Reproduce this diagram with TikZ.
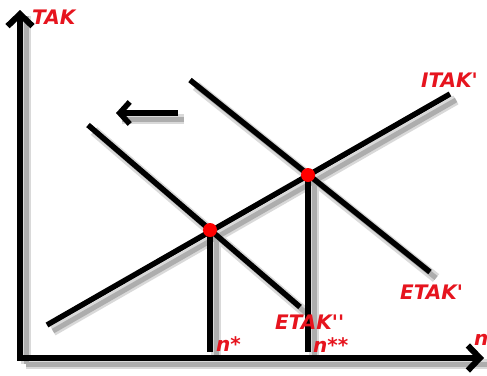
\documentclass[tikz,border=0pt]{standalone}
\usepackage{fontspec}
\setmainfont{DejaVu Sans}
\usetikzlibrary{arrows.meta}
\definecolor{lblred}{RGB}{230,20,30}
\tikzset{
  every picture/.style={x=1pt,y=-1pt},
  curve/.style={line width=5.5pt, black},
  shadowline/.style={line width=10pt, black!15},
  shadowline2/.style={line width=5pt, black!32},
  axis/.style={line width=6pt, black, -{Straight Barb[length=12pt,width=25pt,line width=6pt]}},
  lbl/.style={text=lblred, font=\bfseries\itshape\fontsize{20}{20}\selectfont, inner sep=0pt},
  dot/.style={circle, fill=red, inner sep=0pt, minimum size=14pt}
}
\newcommand{\qs}{\textquotesingle}
\begin{document}
\begin{tikzpicture}
\useasboundingbox (0,0) rectangle (487,375);
% coordinates
\coordinate (O) at (20,358);
\coordinate (Ytop) at (20,10);
\coordinate (Xend) at (484,358);
\coordinate (I1) at (47,325);
\coordinate (I2) at (450,94);
\coordinate (E1a) at (190,80);
\coordinate (E1b) at (430,272);
\coordinate (E2a) at (88,125);
\coordinate (E2b) at (300,307);
\coordinate (A) at (210,230);
\coordinate (B) at (308,175);
\coordinate (Abot) at (210,352);
\coordinate (Bbot) at (308,352);
\coordinate (Sa) at (178,113);
\coordinate (Sb) at (116,113);
% shadows (offset down-right)
\foreach \p/\q in {I1/I2,E1a/E1b,E2a/E2b,A/Abot,B/Bbot,O/Ytop,O/Xend,Sa/Sb}{
  \draw[shadowline] ([shift={(6,6)}]\p) -- ([shift={(6,6)}]\q);
}
\foreach \p/\q in {I1/I2,E1a/E1b,E2a/E2b,A/Abot,B/Bbot,O/Ytop,O/Xend,Sa/Sb}{
  \draw[shadowline2] ([shift={(6,6)}]\p) -- ([shift={(6,6)}]\q);
}
% lines
\draw[curve] (I1) -- (I2);
\draw[curve] (E1a) -- (E1b);
\draw[curve] (E2a) -- (E2b);
\draw[curve] (A) -- (Abot);
\draw[curve] (B) -- (Bbot);
\draw[axis] (O) -- (Ytop);
\draw[axis] ([xshift=-3pt]O) -- (Xend);
\draw[line width=5.5pt, -{Straight Barb[length=10pt,width=22pt,line width=5.5pt]}] (Sa) -- (Sb);
% dots
\node[dot] (dA) at (A) {};
\node[dot] (dB) at (B) {};
% labels
\node[lbl, anchor=west] (tak) at (32,17) {TAK};
\node[lbl, anchor=west] (itak) at (421,80) {ITAK\qs};
\node[lbl, anchor=west] (etak1) at (400,292) {ETAK\qs};
\node[lbl, anchor=west] (etak2) at (275,322) {ETAK\qs\qs};
\node[lbl, anchor=west] (ns) at (216,344) {n*};
\node[lbl, anchor=west] (nss) at (313,345) {n**};
\node[lbl, anchor=west] (n) at (474,340) {n};
\end{tikzpicture}
\end{document}
